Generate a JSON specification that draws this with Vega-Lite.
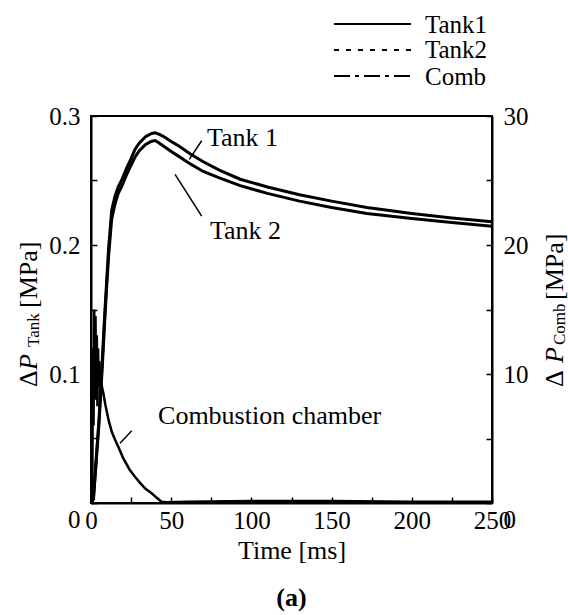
{
  "$schema": "https://vega.github.io/schema/vega-lite/v6.json",
  "width": 401,
  "height": 387,
  "autosize": {"type": "none"},
  "padding": {"left": 91, "top": 116, "right": 76, "bottom": 112},
  "background": "white",
  "config": {
    "view": {"stroke": "black", "strokeWidth": 2},
    "font": "Liberation Serif",
    "axis": {
      "grid": false,
      "domainColor": "black",
      "domainWidth": 2,
      "tickColor": "black",
      "tickWidth": 1.5,
      "tickSize": -6,
      "labelColor": "black",
      "labelFont": "Liberation Serif",
      "labelFontSize": 25,
      "labelFlush": false,
      "titleFont": "Liberation Serif",
      "titleFontSize": 26,
      "titleFontWeight": "normal",
      "titleColor": "black"
    },
    "text": {"font": "Liberation Serif", "color": "black"}
  },
  "title": {"text": "(a)", "orient": "bottom", "anchor": "middle", "fontSize": 26, "fontWeight": "bold", "font": "Liberation Serif", "color": "black", "offset": 22},
  "datasets": {
    "tank": [
      {"t": 0, "v": 0, "series": "Tank1"}, {"t": 1.5, "v": 0.003, "series": "Tank1"}, {"t": 3, "v": 0.03, "series": "Tank1"}, {"t": 5, "v": 0.065, "series": "Tank1"}, {"t": 7, "v": 0.11, "series": "Tank1"}, {"t": 8.5, "v": 0.145, "series": "Tank1"}, {"t": 9.8, "v": 0.173, "series": "Tank1"}, {"t": 11, "v": 0.198, "series": "Tank1"}, {"t": 12.9, "v": 0.227, "series": "Tank1"}, {"t": 15, "v": 0.238, "series": "Tank1"}, {"t": 17, "v": 0.245, "series": "Tank1"}, {"t": 19, "v": 0.25, "series": "Tank1"}, {"t": 22, "v": 0.259, "series": "Tank1"}, {"t": 25, "v": 0.267, "series": "Tank1"}, {"t": 27.4, "v": 0.274, "series": "Tank1"}, {"t": 30, "v": 0.279, "series": "Tank1"}, {"t": 34, "v": 0.284, "series": "Tank1"}, {"t": 37.8, "v": 0.2865, "series": "Tank1"}, {"t": 40, "v": 0.287, "series": "Tank1"}, {"t": 43, "v": 0.2855, "series": "Tank1"}, {"t": 46, "v": 0.2835, "series": "Tank1"}, {"t": 50, "v": 0.2803, "series": "Tank1"}, {"t": 55, "v": 0.2765, "series": "Tank1"}, {"t": 58.6, "v": 0.2735, "series": "Tank1"}, {"t": 62, "v": 0.2705, "series": "Tank1"}, {"t": 70, "v": 0.2645, "series": "Tank1"}, {"t": 80, "v": 0.258, "series": "Tank1"}, {"t": 93, "v": 0.251, "series": "Tank1"}, {"t": 110, "v": 0.245, "series": "Tank1"}, {"t": 130, "v": 0.239, "series": "Tank1"}, {"t": 150, "v": 0.234, "series": "Tank1"}, {"t": 172, "v": 0.229, "series": "Tank1"}, {"t": 200, "v": 0.2245, "series": "Tank1"}, {"t": 225, "v": 0.221, "series": "Tank1"}, {"t": 250, "v": 0.218, "series": "Tank1"},
      {"t": 0, "v": 0, "series": "Tank2"}, {"t": 1.5, "v": 0.003, "series": "Tank2"}, {"t": 3, "v": 0.028, "series": "Tank2"}, {"t": 5, "v": 0.062, "series": "Tank2"}, {"t": 7, "v": 0.105, "series": "Tank2"}, {"t": 8.5, "v": 0.14, "series": "Tank2"}, {"t": 9.8, "v": 0.168, "series": "Tank2"}, {"t": 11, "v": 0.192, "series": "Tank2"}, {"t": 12.9, "v": 0.22, "series": "Tank2"}, {"t": 15, "v": 0.232, "series": "Tank2"}, {"t": 17, "v": 0.24, "series": "Tank2"}, {"t": 19, "v": 0.245, "series": "Tank2"}, {"t": 22, "v": 0.254, "series": "Tank2"}, {"t": 25, "v": 0.262, "series": "Tank2"}, {"t": 27.4, "v": 0.268, "series": "Tank2"}, {"t": 30, "v": 0.273, "series": "Tank2"}, {"t": 34, "v": 0.278, "series": "Tank2"}, {"t": 37.8, "v": 0.2805, "series": "Tank2"}, {"t": 40, "v": 0.281, "series": "Tank2"}, {"t": 42, "v": 0.2795, "series": "Tank2"}, {"t": 46, "v": 0.276, "series": "Tank2"}, {"t": 50, "v": 0.2725, "series": "Tank2"}, {"t": 55, "v": 0.2685, "series": "Tank2"}, {"t": 58.6, "v": 0.2655, "series": "Tank2"}, {"t": 62, "v": 0.2628, "series": "Tank2"}, {"t": 70, "v": 0.257, "series": "Tank2"}, {"t": 80, "v": 0.252, "series": "Tank2"}, {"t": 93, "v": 0.246, "series": "Tank2"}, {"t": 110, "v": 0.24, "series": "Tank2"}, {"t": 130, "v": 0.234, "series": "Tank2"}, {"t": 150, "v": 0.229, "series": "Tank2"}, {"t": 172, "v": 0.2245, "series": "Tank2"}, {"t": 200, "v": 0.2205, "series": "Tank2"}, {"t": 225, "v": 0.2175, "series": "Tank2"}, {"t": 250, "v": 0.2145, "series": "Tank2"}
    ],
    "comb": [
      {"t": 0, "v": 0}, {"t": 0.8, "v": 0}, {"t": 1.2, "v": 12}, {"t": 1.6, "v": 6}, {"t": 2.0, "v": 15}, {"t": 2.4, "v": 8}, {"t": 2.8, "v": 14.5}, {"t": 3.2, "v": 9}, {"t": 3.6, "v": 13}, {"t": 4.0, "v": 7.5}, {"t": 4.4, "v": 12}, {"t": 4.8, "v": 9}, {"t": 5.2, "v": 11}, {"t": 5.6, "v": 9.5}, {"t": 6.5, "v": 9.2}, {"t": 7.7, "v": 8.5}, {"t": 9, "v": 7.6}, {"t": 11, "v": 6.4}, {"t": 13, "v": 5.5}, {"t": 15, "v": 4.9}, {"t": 17, "v": 4.36}, {"t": 20, "v": 3.5}, {"t": 24, "v": 2.6}, {"t": 27.4, "v": 2.04}, {"t": 31, "v": 1.5}, {"t": 34, "v": 1.1}, {"t": 37.8, "v": 0.75}, {"t": 41, "v": 0.4}, {"t": 44, "v": 0.1}, {"t": 47, "v": 0.05}, {"t": 60, "v": 0.1}, {"t": 100, "v": 0.15}, {"t": 150, "v": 0.15}, {"t": 200, "v": 0.1}, {"t": 250, "v": 0.1}
    ],
    "legendkey": [
      {"t": 151.5, "t2": 199.5, "v": 0.3713, "series": "Tank1"},
      {"t": 151.5, "t2": 199.5, "v": 0.3512, "series": "Tank2"},
      {"t": 151.5, "t2": 199.5, "v": 0.331, "series": "Comb"}
    ],
    "labels": [
      {"t": 72.3, "v": 0.2767, "label": "Tank 1", "kind": "anno"},
      {"t": 74.2, "v": 0.2047, "label": "Tank 2", "kind": "anno"},
      {"t": 41.8, "v": 0.0612, "label": "Combustion chamber", "kind": "anno"},
      {"t": 208.2, "v": 0.3647, "label": "Tank1", "kind": "key"},
      {"t": 208.2, "v": 0.3446, "label": "Tank2", "kind": "key"},
      {"t": 208.2, "v": 0.3244, "label": "Comb", "kind": "key"},
      {"t": -33.67, "v": 0.0899, "label": "Δ", "kind": "tmain"},
      {"t": -33.67, "v": 0.1031, "label": "P", "kind": "tital"},
      {"t": -32.4, "v": 0.1209, "label": "Tank", "kind": "tsub"},
      {"t": -33.67, "v": 0.1512, "label": "[MPa]", "kind": "tmain"},
      {"t": 294.3, "v": 0.0899, "label": "Δ", "kind": "tmain"},
      {"t": 294.3, "v": 0.1085, "label": "P", "kind": "tital"},
      {"t": 295.5, "v": 0.1225, "label": "Comb", "kind": "tsub"},
      {"t": 294.3, "v": 0.1574, "label": "[MPa]", "kind": "tmain"}
    ],
    "leaders": [
      {"t": 69.0, "v": 0.2808, "t2": 61.3, "v2": 0.2664},
      {"t": 52.4, "v": 0.2547, "t2": 69.0, "v2": 0.2224},
      {"t": 25.4, "v": 0.056, "t2": 18.1, "v2": 0.0463}
    ]
  },
  "encoding": {
    "x": {
      "field": "t", "type": "quantitative",
      "scale": {"domain": [0, 250], "nice": false, "zero": false},
      "axis": {
        "values": [0, 25, 50, 75, 100, 125, 150, 175, 200, 225, 250],
        "labelExpr": "datum.value % 50 === 0 ? datum.label : ''",
        "labelPadding": 11,
        "title": "Time [ms]",
        "titlePadding": 4
      }
    }
  },
  "layer": [
    {
      "encoding": {
        "y": {
          "field": "v", "type": "quantitative",
          "scale": {"domain": [0, 0.3], "nice": false, "zero": false},
          "axis": {
            "orient": "left",
            "values": [0, 0.05, 0.1, 0.15, 0.2, 0.25, 0.3],
            "format": ".1~f",
            "labelExpr": "abs(datum.value * 10 - round(datum.value * 10)) < 0.000001 ? datum.label : ''",
            "labelPadding": 17,
            "labelOffset": {"condition": {"test": "datum.value === 0", "value": 16}, "value": 0},
            "title": null
          }
        }
      },
      "layer": [
        {
          "data": {"name": "tank"},
          "mark": {"type": "line", "color": "black", "strokeWidth": 3},
          "encoding": {"detail": {"field": "series"}}
        },
        {
          "data": {"name": "legendkey"},
          "mark": {"type": "rule", "color": "black", "strokeWidth": 2},
          "encoding": {
            "x2": {"field": "t2"},
            "strokeDash": {
              "field": "series", "type": "nominal",
              "scale": {"domain": ["Tank1", "Tank2", "Comb"], "range": [[1, 0], [5, 7], [16, 5, 4, 5]]},
              "legend": null
            }
          }
        },
        {
          "data": {"name": "leaders"},
          "mark": {"type": "rule", "color": "black", "strokeWidth": 1.5},
          "encoding": {"x2": {"field": "t2"}, "y2": {"field": "v2"}}
        },
        {
          "data": {"name": "labels"},
          "transform": [{"filter": "datum.kind === 'anno'"}],
          "mark": {"type": "text", "align": "left", "baseline": "alphabetic", "fontSize": 26},
          "encoding": {"text": {"field": "label"}}
        },
        {
          "data": {"name": "labels"},
          "transform": [{"filter": "datum.kind === 'key'"}],
          "mark": {"type": "text", "align": "left", "baseline": "alphabetic", "fontSize": 25},
          "encoding": {"text": {"field": "label"}}
        },
        {
          "data": {"name": "labels"},
          "transform": [{"filter": "datum.kind === 'tmain'"}],
          "mark": {"type": "text", "align": "left", "baseline": "alphabetic", "fontSize": 26, "angle": 270},
          "encoding": {"text": {"field": "label"}}
        },
        {
          "data": {"name": "labels"},
          "transform": [{"filter": "datum.kind === 'tital'"}],
          "mark": {"type": "text", "align": "left", "baseline": "alphabetic", "fontSize": 26, "fontStyle": "italic", "angle": 270},
          "encoding": {"text": {"field": "label"}}
        },
        {
          "data": {"name": "labels"},
          "transform": [{"filter": "datum.kind === 'tsub'"}],
          "mark": {"type": "text", "align": "left", "baseline": "alphabetic", "fontSize": 17, "angle": 270},
          "encoding": {"text": {"field": "label"}}
        }
      ]
    },
    {
      "data": {"name": "comb"},
      "mark": {"type": "line", "color": "black", "strokeWidth": 2.5},
      "encoding": {
        "y": {
          "field": "v", "type": "quantitative",
          "scale": {"domain": [0, 30], "nice": false, "zero": false},
          "axis": {
            "orient": "right",
            "values": [0, 5, 10, 15, 20, 25, 30],
            "labelExpr": "datum.value % 10 === 0 ? datum.label : ''",
            "labelPadding": 17,
            "labelOffset": {"condition": {"test": "datum.value === 0", "value": 16}, "value": 0},
            "title": null
          }
        }
      }
    }
  ],
  "resolve": {"scale": {"y": "independent"}}
}
